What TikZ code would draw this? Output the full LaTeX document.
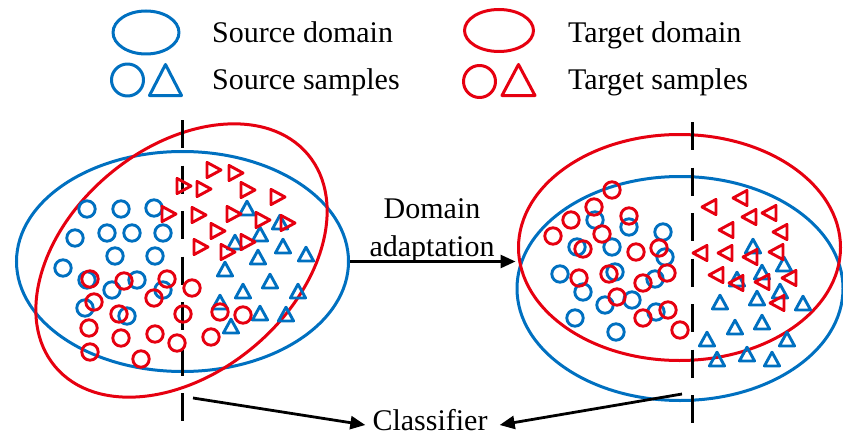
\documentclass[tikz,border=0pt]{standalone}
\usepackage{fontspec}
\setmainfont{Liberation Serif}
\usetikzlibrary{arrows.meta,shapes.geometric,calc}
\definecolor{srcblue}{RGB}{0,112,192}
\definecolor{tgtred}{RGB}{230,0,16}

\begin{document}
\begin{tikzpicture}[x=1pt,y=-1pt,
  txt/.style={font=\fontsize{30}{38}\selectfont, inner sep=0pt},
  domainshape/.style={ellipse, line width=3pt, inner sep=0pt},
  legendshape/.style={line width=3pt, line join=round},
  sample/.style={line width=2.9pt, line join=round},
  boundary/.style={line width=3pt, dash pattern=on 28pt off 17.5pt},
  flow/.style={line width=2.8pt, -{Triangle[length=15pt,width=13pt]}},
]
\useasboundingbox (0,0) rectangle (843,436);

% ---------- legend ----------
\draw[legendshape, srcblue] (146,32.5) ellipse [x radius=33, y radius=21.5];
\draw[legendshape, srcblue] (127.5,80) circle [radius=16];
\draw[legendshape, srcblue] (165.5,64.5) -- (181.5,95.5) -- (149.5,95.5) -- cycle;
\draw[legendshape, tgtred] (499,30.5) ellipse [x radius=34.5, y radius=21];
\draw[legendshape, tgtred] (479.5,81.5) circle [radius=16];
\draw[legendshape, tgtred] (518.5,64.5) -- (535,95.5) -- (502,95.5) -- cycle;
\node[txt, anchor=base west] (lsd) at (212,43) {Source domain};
\node[txt, anchor=base west] (lss) at (212,89) {Source samples};
\node[txt, anchor=base west] (ltd) at (568,43) {Target domain};
\node[txt, anchor=base west] (lts) at (568,89) {Target samples};

% ---------- domains before adaptation ----------
\node[domainshape, draw=srcblue, minimum width=332pt, minimum height=220pt] (srcA) at (182.5,261.5) {};
\node[domainshape, draw=tgtred, rotate=40, minimum width=330pt, minimum height=225pt] (tgtA) at (181.5,260.5) {};

% ---------- domains after adaptation ----------
\node[domainshape, draw=srcblue, minimum width=326pt, minimum height=224pt] (srcB) at (680,288.5) {};
\node[domainshape, draw=tgtred, minimum width=322pt, minimum height=226pt] (tgtB) at (679.5,247.5) {};

% ---------- decision boundaries ----------
\coordinate (bl1) at (182.5,120);
\coordinate (bl2) at (182.5,421);
\coordinate (br1) at (692,122);
\coordinate (br2) at (692,423);
\draw[boundary] (bl1) -- (bl2);
\draw[boundary] (br1) -- (br2);

% ---------- samples, left ----------
\foreach \x/\y in {87/209,121/209,154/208,75/238,107/233,132/233,163/233,115/256,155/256,
                   63/268,87/280,112/290,137/280,163/290,85/308,127/316}
  \draw[sample, srcblue] (\x,\y) circle [radius=8.2];
\foreach \x/\y in {247/209,280/223,260/235,235/243,283/247,306/255,258/258,225/270,270/282,
                   243/292,298/292,220/303,260/314,286/315,231/327}
  \draw[sample, srcblue, shift={(\x,\y)}] (0,-7.8) -- (7.6,6) -- (-7.6,6) -- cycle;
\foreach \x/\y in {90/279,124/281,167/279,192/288,94/302,154/298,119/314,183/314,220/312,
                   243/315,89/328,121/338,155/334,177/343,211/337,90/352,141/359}
  \draw[sample, tgtred] (\x,\y) circle [radius=8.2];
\foreach \x/\y in {213/170,235/173,183/186,203/189,247/190,277/197,168/214,198/215,233/214,
                   262/220,287/223,217/231,200/247,227/252,247/242}
  \draw[sample, tgtred, shift={(\x,\y)}] (-6,-7.6) -- (8,0) -- (-6,7.6) -- cycle;

% ---------- samples, right ----------
\foreach \x/\y in {595/220,629/227,663/232,577/247,612/247,665/257,560/274,615/272,655/279,
                   583/292,605/305,632/300,656/312,575/318,616/332}
  \draw[sample, srcblue] (\x,\y) circle [radius=8.2];
\foreach \x/\y in {753/247,784/265,737/280,762/273,780/292,720/303,757/299,803/304,735/328,
                   762/323,707/340,787/340,717/360,747/355,772/360}
  \draw[sample, srcblue, shift={(\x,\y)}] (0,-7.8) -- (7.6,6) -- (-7.6,6) -- cycle;
\foreach \x/\y in {612/190,594/207,571/220,629/216,553/236,602/234,583/249,636/252,659/248,
                   579/278,609/274,643/283,667/273,617/297,643/318,668/310,680/330}
  \draw[sample, tgtred] (\x,\y) circle [radius=8.2];
\foreach \x/\y in {710/207,741/198,750/217,770/213,727/230,781/232,701/253,726/253,751/257,
                   777/252,717/275,737/283,763/282,790/278,778/303}
  \draw[sample, tgtred, shift={(\x,\y)}] (6,-7.6) -- (-8,0) -- (6,7.6) -- cycle;

% ---------- adaptation arrow ----------
\node[txt, align=center, anchor=south] (da) at (432,263) {Domain\\adaptation};
\draw[flow] (srcA.east) -- (srcA.east -| srcB.west);

% ---------- classifier ----------
\node[txt, anchor=base] (clf) at (430,430) {Classifier};
\coordinate (cl) at (193,398);
\coordinate (cr) at (682,394);
\draw[flow] (cl) -- ([xshift=-7pt,yshift=5pt]clf.base west);
\draw[flow] (cr) -- ([xshift=12pt,yshift=5pt]clf.base east);
\end{tikzpicture}
\end{document}
